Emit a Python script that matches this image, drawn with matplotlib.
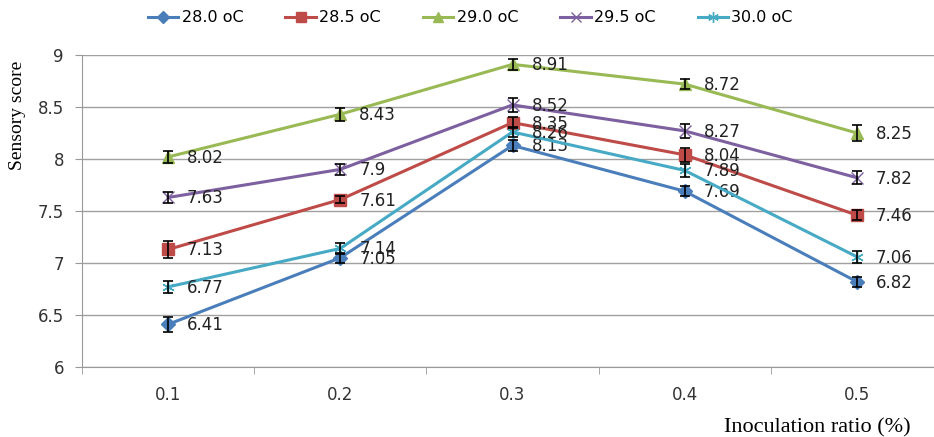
import matplotlib
matplotlib.use("Agg")
import matplotlib.pyplot as plt
from matplotlib.ticker import FixedLocator

# Data
ratios = ['0.1', '0.2', '0.3', '0.4', '0.5']
temps = ['28.0 oC', '28.5 oC', '29.0 oC', '29.5 oC', '30.0 oC']
score_280 = [6.41, 7.05, 8.13, 7.69, 6.82]
score_285 = [7.13, 7.61, 8.35, 8.04, 7.46]
score_290 = [8.02, 8.43, 8.91, 8.72, 8.25]
score_295 = [7.63, 7.90, 8.52, 8.27, 7.82]
score_300 = [6.77, 7.14, 8.26, 7.89, 7.06]
err_280 = [0.07, 0.05, 0.05, 0.05, 0.05]
err_285 = [0.08, 0.03, 0.05, 0.07, 0.05]
err_290 = [0.06, 0.06, 0.05, 0.05, 0.08]
err_295 = [0.05, 0.05, 0.07, 0.07, 0.06]
err_300 = [0.06, 0.05, 0.05, 0.06, 0.06]

series = [score_280, score_285, score_290, score_295, score_300]
errors = [err_280, err_285, err_290, err_295, err_300]
colors = ['#4A7EBB', '#BE4B48', '#98B954', '#7D60A0', '#46AAC5']
markers = ['D', 's', '^', 'x', (6, 2, 0)]
msizes = [7, 9, 9, 8, 9]

fig = plt.figure(figsize=(9.34, 4.37), dpi=100)
ax = fig.add_axes([82 / 934, 1 - 367 / 437, 861 / 934, 312 / 437])

x = list(range(len(ratios)))
for vals, errs, c, m, ms, name in zip(series, errors, colors, markers, msizes, temps):
    ax.plot(x, vals, color=c, lw=2.2, marker=m, ms=ms, mec=c, mfc=c, mew=1.0,
            label=name, zorder=3)
    ax.errorbar(x, vals, yerr=errs, fmt='none', ecolor='black', elinewidth=1.2,
                capsize=3.5, capthick=1.2, zorder=4)
    for xi, v in zip(x, vals):
        ax.annotate(f'{v:g}', (xi, v), xytext=(19, -1), textcoords='offset pixels',
                    ha='left', va='center', fontsize=12, color='#222222')

ax.set_xlim(-0.5, len(ratios) - 0.5)
ax.set_ylim(6, 9)
ax.set_yticks([6, 6.5, 7, 7.5, 8, 8.5, 9])
ax.set_yticklabels(['6', '6.5', '7', '7.5', '8', '8.5', '9'])
ax.set_xticks(x)
ax.set_xticklabels(ratios)
ax.xaxis.set_minor_locator(FixedLocator([i - 0.5 for i in range(len(ratios) + 1)]))
ax.tick_params(axis='x', which='major', length=0, pad=14, labelsize=12, labelcolor='#333333')
ax.tick_params(axis='x', which='minor', length=5, color='#999999')
ax.tick_params(axis='y', length=5, color='#999999', labelsize=12, labelcolor='#333333', pad=8)

ax.yaxis.grid(True, color='#A0A0A0', lw=1)
ax.set_axisbelow(True)
for s in ['top', 'right']:
    ax.spines[s].set_visible(False)
for s in ['left', 'bottom']:
    ax.spines[s].set_color('#999999')

fig.text(18 / 934, 1 - 115 / 437, 'Sensory score', rotation=90, ha='center', va='center',
         family='Liberation Serif', fontsize=14)
fig.text(817 / 934, 1 - 428 / 437, 'Inoculation ratio (%)', ha='center', va='center',
         family='Liberation Serif', fontsize=16)

handles, labels = ax.get_legend_handles_labels()
fig.legend(handles, labels, loc='center left', bbox_to_anchor=(148 / 934, 1 - 18 / 437),
           ncol=5, frameon=False, fontsize=11.5, handlelength=1.9, columnspacing=2.65,
           handletextpad=0.2, borderaxespad=0, borderpad=0, markerscale=0.85)

fig.savefig('out.png', dpi=100)
